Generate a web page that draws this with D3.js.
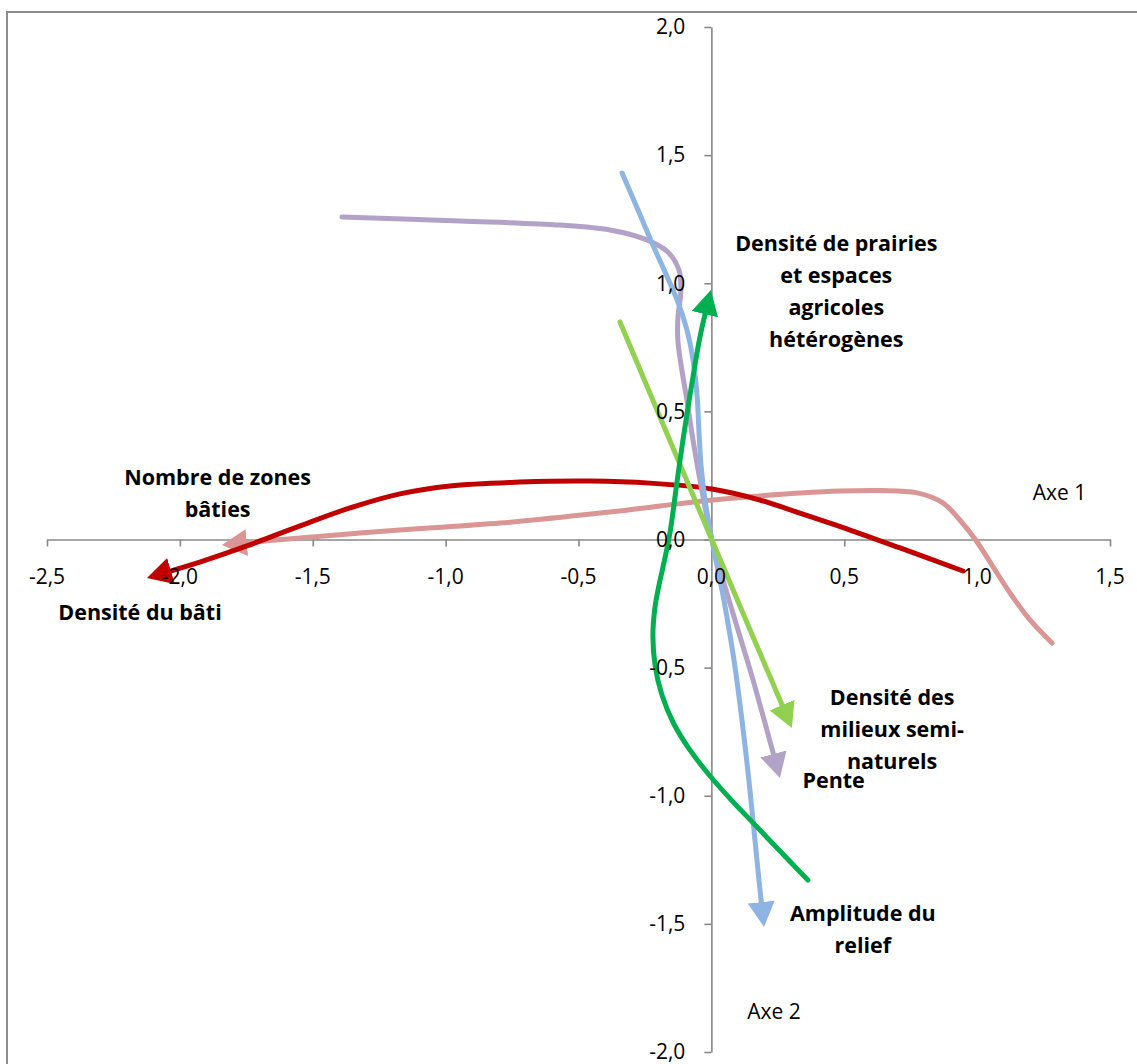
<!DOCTYPE html>
<html><head><meta charset="utf-8">
<script src="https://cdn.jsdelivr.net/npm/d3@7"></script>
<style>
html,body{margin:0;padding:0;background:#fff;}
svg{display:block;}
</style></head>
<body>
<svg id="chart" width="1137" height="1064"></svg>
<script>
// ---- data (Axe 1 = x, Axe 2 = y) ----
const xTicks = [-2.5,-2.0,-1.5,-1.0,-0.5,0.0,0.5,1.0,1.5];
const yTicks = [-2.0,-1.5,-1.0,-0.5,0.0,0.5,1.0,1.5,2.0];

const densiteBati = [[0.947,-0.123],[0.710,-0.033],[0.522,0.037],[0.333,0.103],[0.183,0.154],[0.002,0.197],[-0.231,0.220],[-0.457,0.228],[-0.720,0.224],[-0.984,0.209],[-1.172,0.178],[-1.360,0.123],[-1.548,0.053],[-1.748,-0.025],[-1.925,-0.088],[-2.124,-0.150]];
const zonesBaties = [[1.282,-0.404],[1.199,-0.314],[1.124,-0.209],[1.060,-0.107],[1.000,-0.010],[0.935,0.076],[0.871,0.143],[0.774,0.182],[0.635,0.191],[0.484,0.189],[0.333,0.181],[0.183,0.170],[0.002,0.154],[-0.193,0.131],[-0.419,0.103],[-0.795,0.064],[-1.172,0.037],[-1.548,0.006],[-1.842,-0.021]];
const pente = [[-1.390,1.259],[-0.946,1.243],[-0.570,1.227],[-0.382,1.208],[-0.250,1.172],[-0.164,1.122],[-0.122,1.052],[-0.115,0.968],[-0.126,0.864],[-0.126,0.775],[-0.111,0.661],[-0.092,0.544],[-0.069,0.388],[-0.036,0.193],[0.002,-0.002],[0.081,-0.287],[0.157,-0.549],[0.258,-0.931]];
const amplitudeRelief = [[-0.336,1.430],[-0.276,1.286],[-0.220,1.149],[-0.171,1.036],[-0.126,0.927],[-0.092,0.818],[-0.069,0.701],[-0.054,0.564],[-0.047,0.427],[-0.039,0.291],[-0.024,0.154],[0.002,-0.002],[0.047,-0.236],[0.085,-0.470],[0.115,-0.704],[0.141,-0.938],[0.164,-1.173],[0.181,-1.348],[0.198,-1.512]];
const milieuxSemiNaturels = [[-0.344,0.849],[0.002,-0.002],[0.303,-0.736]];
const prairies = [[0.363,-1.329],[0.258,-1.216],[0.172,-1.122],[0.078,-1.020],[-0.005,-0.923],[-0.081,-0.821],[-0.141,-0.720],[-0.186,-0.607],[-0.212,-0.490],[-0.220,-0.373],[-0.212,-0.263],[-0.197,-0.178],[-0.182,-0.107],[-0.156,0.025],[-0.130,0.220],[-0.107,0.388],[-0.073,0.611],[-0.043,0.790],[-0.020,0.896],[-0.002,0.974]];

const seriesNames = ["Nombre de zones bâties","Densité du bâti","Pente","Amplitude du relief","Densité des milieux semi-naturels","Densité de prairies et espaces agricoles hétérogènes"];
const seriesData = [zonesBaties, densiteBati, pente, amplitudeRelief, milieuxSemiNaturels, prairies];
const seriesColors = ["#D99694","#C00000","#B3A2C7","#8EB4E3","#92D050","#00B050"];

// labels: lines, anchor (data units)
const labelLines = [
  ["Densité de prairies","et espaces","agricoles","hétérogènes"],
  ["Nombre de zones","bâties"],
  ["Densité du bâti"],
  ["Densité des","milieux semi-","naturels"],
  ["Pente"],
  ["Amplitude du","relief"]
];
const labelAnchors = [[0.47,1.157],[-1.858,0.241],[-2.15,-0.284],[0.68,-0.616],[0.46,-0.942],[0.57,-1.458]];
const axisTitles = ["Axe 1","Axe 2"];
const axisTitleAnchors = [[1.31,0.183],[0.236,-1.841]];

// ---- layout ----
const svg = d3.select("#chart");
const x = d3.scaleLinear().domain([-2.5,1.5]).range([47,1110]);
const y = d3.scaleLinear().domain([-2,2]).range([1052,27]);
const fmt = v => v.toFixed(1).replace(".",",");
const FONT = "'Open Sans', 'Noto Sans', sans-serif";

// frame
svg.append("rect").attr("x",7).attr("y",12).attr("width",1200).attr("height",1200)
  .attr("fill","#fff").attr("stroke","#8c8c8c").attr("stroke-width",2);

// axes lines & ticks
const gx = svg.append("g").attr("transform",`translate(0,${y(0)})`)
  .call(d3.axisBottom(x).tickValues(xTicks).tickSize(7).tickSizeOuter(0).tickFormat(""));
const gy = svg.append("g").attr("transform",`translate(${x(0)},0)`)
  .call(d3.axisLeft(y).tickValues(yTicks).tickSize(7).tickSizeOuter(0).tickFormat(""));
[gx,gy].forEach(g=>{
  g.selectAll("path.domain").attr("stroke","#888").attr("stroke-width",1.6);
  g.selectAll(".tick line").attr("stroke","#888").attr("stroke-width",1.6);
});

// arrow markers
const defs = svg.append("defs");
seriesColors.forEach((c,i)=>{
  defs.append("marker").attr("id","arr"+i)
    .attr("markerUnits","userSpaceOnUse")
    .attr("viewBox","0 0 25 27").attr("markerWidth",25).attr("markerHeight",27)
    .attr("refX",25).attr("refY",13.5).attr("orient","auto")
    .append("path").attr("d","M0,0 L25,13.5 L0,27 Z").attr("fill",c);
});

// series
const line = d3.line().x(d=>x(d[0])).y(d=>y(d[1])).curve(d3.curveCatmullRom.alpha(0.5));
seriesData.forEach((data,i)=>{
  const p = svg.append("path").datum(data)
    .attr("d",line).attr("fill","none")
    .attr("stroke",seriesColors[i]).attr("stroke-width",5)
    .attr("stroke-linecap","round").attr("stroke-linejoin","round")
    .attr("marker-end",`url(#arr${i})`);
  const L = p.node().getTotalLength();
  p.attr("stroke-dasharray",`${L-14} ${L+20}`);
});

// tick labels
svg.append("g").selectAll("text").data(xTicks).join("text")
  .attr("x",d=>x(d)).attr("y",y(0)+37).attr("dy","0.35em")
  .attr("text-anchor","middle").attr("font-family",FONT).attr("font-size",21).attr("fill","#000")
  .text(fmt);
svg.append("g").selectAll("text").data(yTicks).join("text")
  .attr("x",x(0)-26).attr("y",d=>y(d)).attr("dy","0.35em")
  .attr("text-anchor","end").attr("font-family",FONT).attr("font-size",21).attr("fill","#000")
  .text(fmt);

// axis titles
axisTitles.forEach((t,i)=>{
  svg.append("text").attr("x",x(axisTitleAnchors[i][0])).attr("y",y(axisTitleAnchors[i][1])).attr("dy","0.35em")
    .attr("text-anchor","middle").attr("font-family",FONT).attr("font-size",21).text(t);
});

// series labels
labelLines.forEach((lines,i)=>{
  const t = svg.append("text").attr("font-family",FONT).attr("font-size",21.5).attr("font-weight","bold")
    .attr("text-anchor","middle").attr("fill","#000");
  lines.forEach((s,j)=>{
    t.append("tspan").attr("x",x(labelAnchors[i][0])).attr("y",y(labelAnchors[i][1])+j*32).attr("dy","0.35em").text(s);
  });
});
</script>
</body></html>
